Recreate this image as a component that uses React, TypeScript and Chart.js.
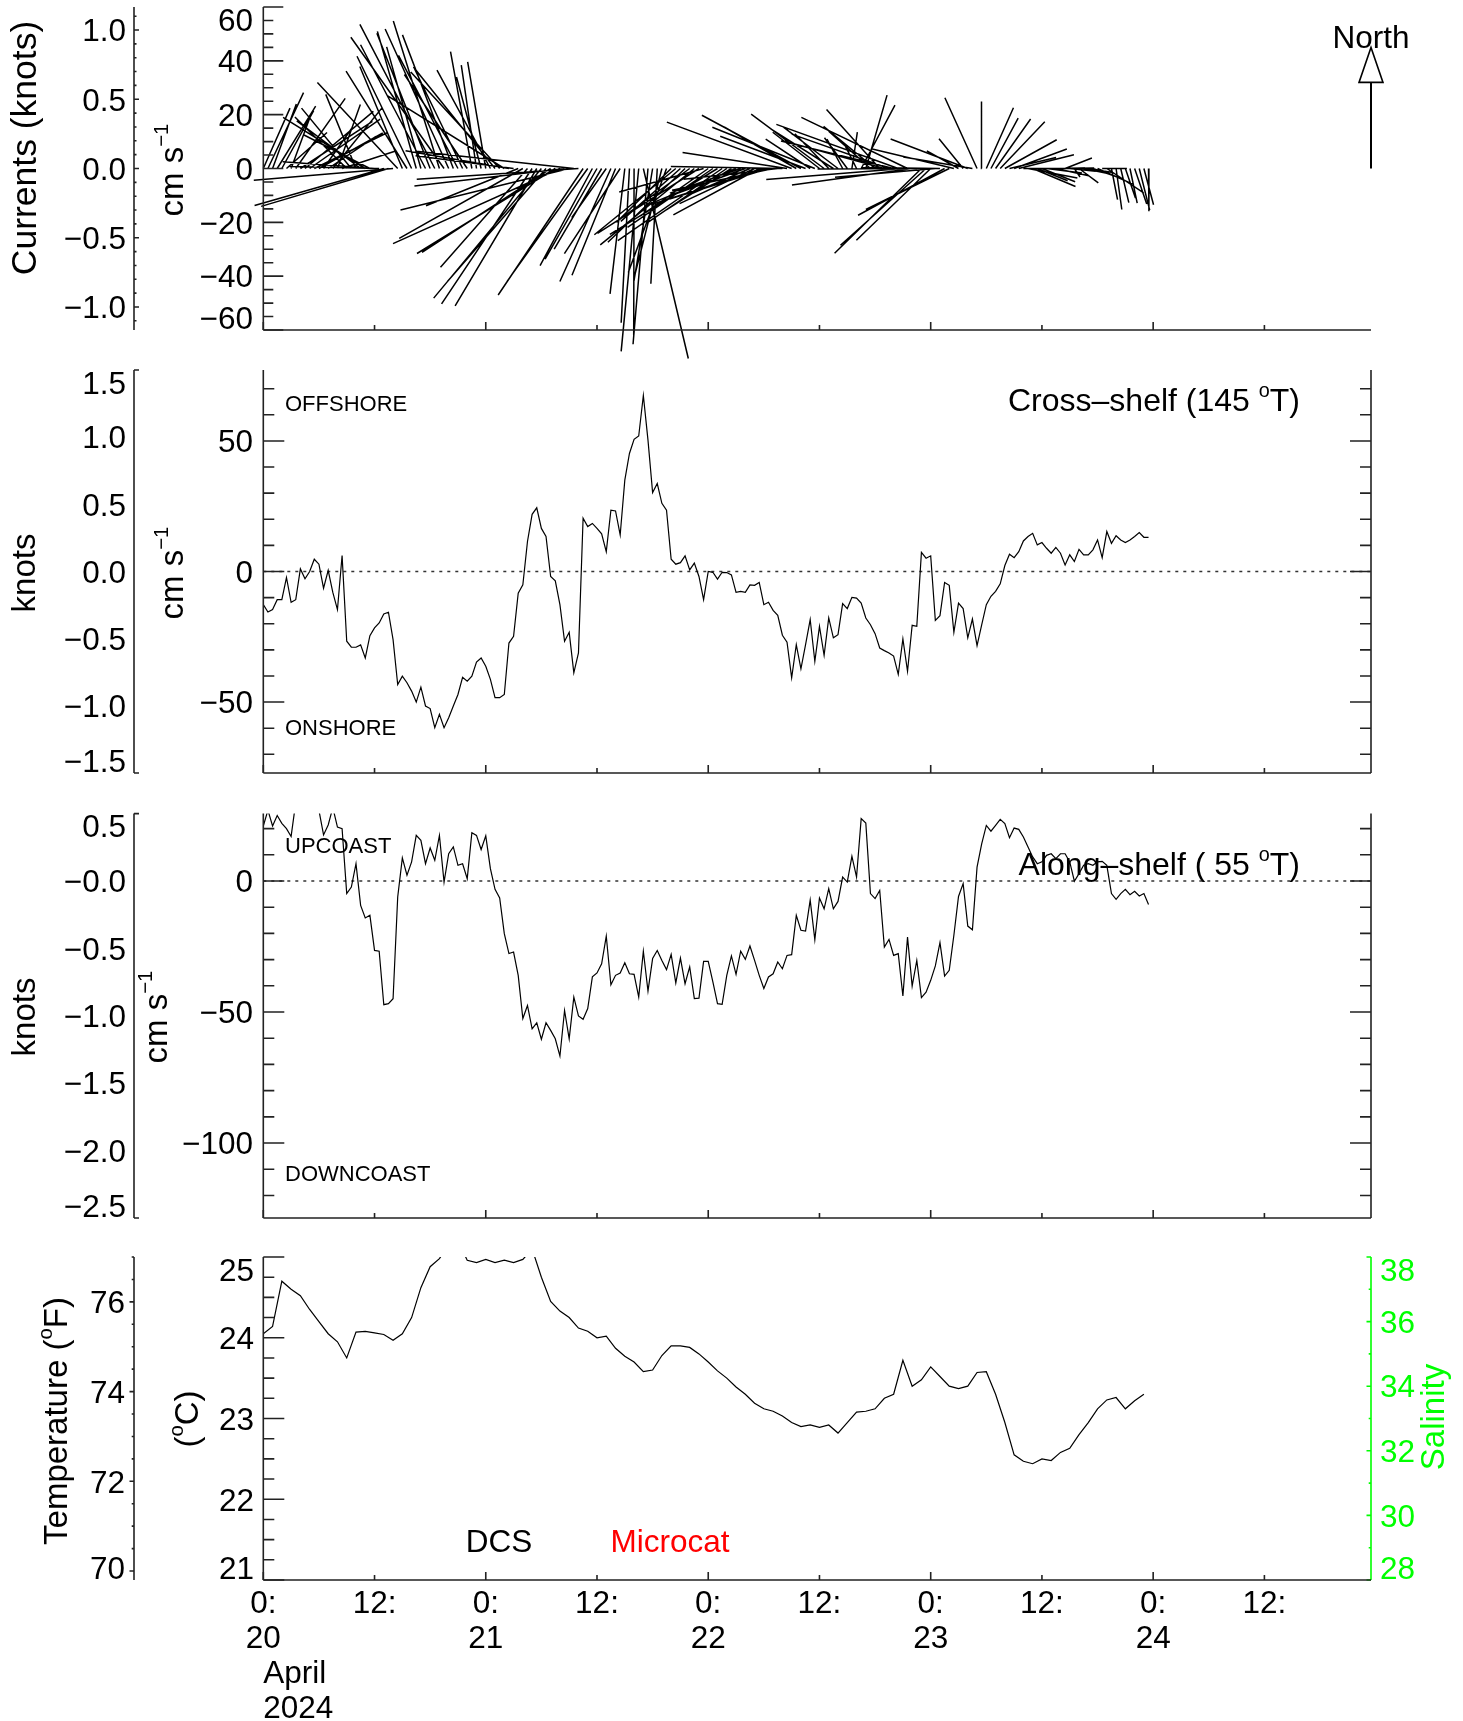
import React, { useEffect, useRef } from "react";
import { Chart, registerables } from "chart.js";

Chart.register(...registerables);

const PAGE_W = 1463;
const PAGE_H = 1721;

// ---------- data ----------
// time in hours since 0:00, 20 April 2024
const TIME_MIN_H = 0;
const TIME_MAX_H = 119.5;
const TIME_TICKS_H = [0, 12, 24, 36, 48, 60, 72, 84, 96, 108];
const TIME_TICK_LABELS = ["0:", "12:", "0:", "12:", "0:", "12:", "0:", "12:", "0:", "12:"];
const DAY_LABELS = ["20", "", "21", "", "22", "", "23", "", "24", ""];
const MONTH_LABEL = "April";
const YEAR_LABEL = "2024";

const CURRENT_STEP_H = 0.5;
const CROSS_SHELF_DIR_DEG = 145;
const ALONG_SHELF_DIR_DEG = 55;
const CMS_PER_KNOT = 51.444;
const NORTH_REF_CMS = 45;

const CROSS_SHELF_CMS = [
  -12.7, -15.5, -14.6, -10.8, -10.8, -2.3, -11.8, -10.8, 1.0, -2.8,
  0.0, 4.7, 2.8, -6.4, 0.4, -8.0, -14.6, 6.1, -26.7, -29.0,
  -29.0, -28.1, -33.1, -24.6, -21.6, -19.7, -16.3, -15.6, -26.1, -43.3,
  -40.1, -42.6, -45.8, -50.0, -44.3, -51.5, -52.5, -59.8, -54.7, -59.8,
  -56.0, -51.5, -47.1, -40.5, -42.0, -40.1, -34.7, -33.1, -36.3, -41.3,
  -48.3, -48.3, -47.1, -27.4, -24.8, -8.3, -5.1, 11.5, 21.9, 24.4,
  16.5, 13.4, -1.9, -3.6, -12.7, -26.7, -23.3, -38.8, -31.2, 20.4,
  17.2, 18.4, 16.5, 14.4, 7.6, 23.5, 23.2, 14.0, 35.0, 45.2,
  50.6, 51.9, 67.4, 50.3, 30.2, 33.7, 26.1, 23.5, 4.7, 2.8,
  3.4, 6.0, 0.6, 3.2, -1.9, -10.8, 0.0, -0.3, -2.9, -0.3,
  -0.4, -1.3, -8.0, -7.6, -8.0, -5.1, -5.3, -4.2, -12.7, -11.8,
  -14.9, -16.8, -24.4, -27.1, -40.7, -28.0, -37.3, -28.0, -18.4, -34.4,
  -21.0, -32.1, -17.8, -25.4, -24.2, -12.3, -14.2, -9.9, -10.2, -12.1,
  -17.8, -20.4, -23.8, -29.3, -30.3, -31.2, -32.4, -39.4, -25.8, -38.2,
  -20.6, -21.0, 7.3, 5.1, 6.0, -18.7, -16.9, -4.2, -5.3, -23.3,
  -12.1, -14.2, -25.4, -18.2, -28.4, -20.4, -12.7, -9.5, -7.6, -4.7,
  2.3, 6.6, 5.3, 7.6, 11.7, 13.4, 14.6, 10.2, 11.1, 8.9,
  7.0, 9.2, 7.0, 2.5, 6.4, 3.8, 8.5, 6.4, 6.4, 8.3,
  12.1, 5.3, 15.3, 10.8, 13.7, 12.1, 11.1, 12.1, 13.4, 14.9,
  13.1, 13.1,
];

const ALONG_SHELF_CMS = [
  21, 27, 21, 25, 22, 20, 17, 30, 32, 33,
  32, 30, 27, 17.6, 21.4, 28, 20.6, 20.0, -4.8, -2.3,
  6.6, -9.3, -14.1, -13.1, -26.5, -26.8, -47.2, -46.8, -44.9, -6.1,
  8.8, 2.2, 7.3, 17.4, 15.5, 6.6, 12.6, 7.9, 17.4, -0.4,
  10.4, 13.0, 6.0, 6.6, 0.9, 18.4, 17.4, 12.0, 17.2, 4.7,
  -3.2, -6.5, -20.1, -27.7, -27.1, -36.0, -52.5, -47.5, -56.4, -54.1,
  -60.4, -54.1, -57.0, -60.2, -66.8, -49.4, -60.2, -44.3, -51.5, -52.8,
  -48.7, -36.6, -35.1, -31.6, -21.0, -39.6, -36.0, -35.1, -31.2, -35.4,
  -35.6, -44.3, -26.8, -42.0, -29.6, -26.5, -30.3, -33.8, -28.0, -38.9,
  -29.4, -39.2, -32.8, -44.9, -44.7, -30.7, -30.7, -38.5, -46.8, -47.1,
  -36.0, -28.6, -35.6, -26.8, -29.9, -24.8, -30.3, -36.0, -41.0, -36.6,
  -35.4, -30.9, -33.5, -28.4, -28.1, -13.1, -18.8, -19.1, -7.3, -22.4,
  -6.5, -10.6, -2.9, -10.6, -7.8, 1.5, -0.4, 9.4, 1.5, 23.8,
  22.1, -4.8, -6.7, -3.6, -25.2, -22.3, -28.4, -27.7, -43.9, -21.4,
  -40.1, -30.3, -44.5, -42.4, -37.9, -32.4, -23.5, -36.3, -34.1, -20.7,
  -5.9, -1.0, -17.2, -18.6, 5.3, 14.2, 21.2, 19.0, 21.2, 23.5,
  21.9, 16.5, 20.2, 19.7, 16.8, 13.0, 9.2, 6.6, 7.3, 9.8,
  10.4, 8.5, 10.4, 10.4, 7.3, -0.1, 2.8, 6.0, 6.6, 6.0,
  7.3, 7.5, 6.0, -4.8, -7.0, -4.8, -3.2, -5.2, -3.9, -5.7,
  -4.8, -9.0,
];

const TEMP_STEP_H = 1;
const TEMP_C = [
  24.05, 24.14, 24.70, 24.60, 24.52, 24.35, 24.20, 24.05, 23.95, 23.75,
  24.07, 24.08, 24.06, 24.04, 23.97, 24.05, 24.25, 24.62, 24.88, 24.98,
  25.15, 25.2, 24.96, 24.93, 24.97, 24.93, 24.96, 24.93, 24.97, 25.1,
  24.75, 24.45, 24.33, 24.25, 24.12, 24.08, 24.0, 24.02, 23.87, 23.77,
  23.70, 23.58, 23.60, 23.78, 23.90, 23.90, 23.88, 23.80, 23.70, 23.59,
  23.50, 23.39, 23.30, 23.19, 23.12, 23.09, 23.03, 22.95, 22.90, 22.92,
  22.89, 22.92, 22.82, 22.95, 23.08, 23.09, 23.12, 23.25, 23.30, 23.72,
  23.40, 23.48, 23.64, 23.52, 23.40, 23.37, 23.40, 23.57, 23.58, 23.30,
  22.95, 22.55, 22.47, 22.44, 22.50, 22.48, 22.58, 22.63, 22.80, 22.95,
  23.12, 23.23, 23.26, 23.12, 23.22, 23.30,
];

// axis ranges
const P1_CMS_RANGE = [-60, 60];
const P2_KNOT_RANGE = [-1.5, 1.5];
const P3_KNOT_RANGE = [-2.5, 0.5];
const TEMP_C_RANGE = [21, 25];
const SAL_RANGE = [28, 38];

// tick labels
const P1_CMS_TICKS = [60, 40, 20, 0, -20, -40, -60];
const P1_CMS_LABELS = ["60", "40", "20", "0", "\u221220", "\u221240", "\u221260"];
const P1_KNOT_TICKS = [1.0, 0.5, 0, -0.5, -1.0];
const P1_KNOT_LABELS = ["1.0", "0.5", "0.0", "\u22120.5", "\u22121.0"];
const P2_CMS_TICKS = [50, 0, -50];
const P2_CMS_LABELS = ["50", "0", "\u221250"];
const P2_KNOT_TICKS = [1.5, 1.0, 0.5, 0, -0.5, -1.0, -1.5];
const P2_KNOT_LABELS = ["1.5", "1.0", "0.5", "0.0", "\u22120.5", "\u22121.0", "\u22121.5"];
const P3_CMS_TICKS = [0, -50, -100];
const P3_CMS_LABELS = ["0", "\u221250", "\u2212100"];
const P3_KNOT_TICKS = [0.5, 0, -0.5, -1.0, -1.5, -2.0, -2.5];
const P3_KNOT_LABELS = ["0.5", "\u22120.0", "\u22120.5", "\u22121.0", "\u22121.5", "\u22122.0", "\u22122.5"];
const TEMP_C_TICKS = [25, 24, 23, 22, 21];
const TEMP_C_LABELS = ["25", "24", "23", "22", "21"];
const TEMP_F_TICKS = [76, 74, 72, 70];
const TEMP_F_LABELS = ["76", "74", "72", "70"];
const SAL_TICKS = [38, 36, 34, 32, 30, 28];
const SAL_LABELS = ["38", "36", "34", "32", "30", "28"];

// ---------- layout ----------
const PLOT_LEFT = 263.3;
const PLOT_RIGHT = 1371;
const KNOT_AXIS_X = 134;
const INK = "#222";
const GREEN = "#00ff00";
const FONT = '"Liberation Sans", Arial, Helvetica, sans-serif';
const TICK_FS = 31.5;
const TITLE_FS = 33;
const PANEL_TITLE_FS = 32;
const NOTE_FS = 22;

type Part = { t: string; sup?: boolean };

function drawRich(
  ctx: CanvasRenderingContext2D,
  parts: Part[] | string,
  x: number,
  y: number,
  size: number,
  align: "left" | "center" | "right" = "left",
  color = "#000",
  rotated = false
) {
  const ps: Part[] = typeof parts === "string" ? [{ t: parts }] : parts;
  const supSize = size * 0.62;
  ctx.save();
  ctx.translate(x, y);
  if (rotated) ctx.rotate(-Math.PI / 2);
  ctx.fillStyle = color;
  ctx.textBaseline = "alphabetic";
  ctx.textAlign = "left";
  const widths = ps.map((p) => {
    ctx.font = `${p.sup ? supSize : size}px ${FONT}`;
    return ctx.measureText(p.t).width;
  });
  const total = widths.reduce((a, b) => a + b, 0);
  let cx = align === "left" ? 0 : align === "center" ? -total / 2 : -total;
  const base = size * 0.358;
  ps.forEach((p, i) => {
    ctx.font = `${p.sup ? supSize : size}px ${FONT}`;
    ctx.fillText(p.t, cx, p.sup ? base - size * 0.45 : base);
    cx += widths[i];
  });
  ctx.restore();
}

function steps(a: number, b: number, s: number): number[] {
  const out: number[] = [];
  const n = Math.round((b - a) / s);
  for (let i = 0; i <= n; i++) out.push(+(a + i * s).toFixed(6));
  return out;
}

type TickSet = { values: number[]; len: number };
type AxisSpec = {
  scale: string;
  at: "left" | "right" | number;
  dir: 1 | -1;
  color: string;
  ticks: TickSet[];
  labels?: { values: number[]; texts: string[]; x: number; align: "left" | "right"; color?: string };
};
type TextSpec = { parts: Part[] | string; x: number; y: number; size: number; align: "left" | "center" | "right"; color?: string; rotated?: boolean };
type PanelSpec = {
  top: number;
  bottom: number;
  axes: AxisSpec[];
  texts: TextSpec[];
  zeroLine: boolean;
  timeLabels: boolean;
  north?: boolean;
};

function drawVAxis(chart: any, ax: AxisSpec) {
  const ctx: CanvasRenderingContext2D = chart.ctx;
  const sc = chart.scales[ax.scale];
  const a = chart.chartArea;
  const x = ax.at === "left" ? a.left : ax.at === "right" ? a.right : ax.at;
  const yTop = sc.getPixelForValue(sc.max);
  const yBot = sc.getPixelForValue(sc.min);
  ctx.save();
  ctx.strokeStyle = ax.color;
  ctx.lineWidth = 1.6;
  ctx.beginPath();
  ctx.moveTo(x, yTop);
  ctx.lineTo(x, yBot);
  for (const ts of ax.ticks) {
    for (const v of ts.values) {
      if (v < sc.min - 1e-6 || v > sc.max + 1e-6) continue;
      const y = sc.getPixelForValue(v);
      ctx.moveTo(x, y);
      ctx.lineTo(x + ax.dir * ts.len, y);
    }
  }
  ctx.stroke();
  ctx.restore();
  if (ax.labels) {
    const half = TICK_FS * 0.36 + 1;
    ax.labels.values.forEach((v, i) => {
      let y = sc.getPixelForValue(v);
      y = Math.max(yTop + half, Math.min(yBot - half, y));
      drawRich(ctx, ax.labels!.texts[i], ax.labels!.x, y, TICK_FS, ax.labels!.align, ax.labels!.color || "#000");
    });
  }
}

function drawTimeAxis(chart: any, withLabels: boolean) {
  const ctx: CanvasRenderingContext2D = chart.ctx;
  const xs = chart.scales.x;
  const a = chart.chartArea;
  ctx.save();
  ctx.strokeStyle = INK;
  ctx.lineWidth = 1.6;
  ctx.beginPath();
  ctx.moveTo(a.left, a.bottom);
  ctx.lineTo(a.right, a.bottom);
  TIME_TICKS_H.forEach((h) => {
    const px = xs.getPixelForValue(h);
    const len = h % 24 === 0 ? 8 : 5;
    ctx.moveTo(px, a.bottom);
    ctx.lineTo(px, a.bottom - len);
  });
  ctx.stroke();
  ctx.restore();
  if (withLabels) {
    TIME_TICKS_H.forEach((h, i) => {
      const px = xs.getPixelForValue(h);
      drawRich(ctx, TIME_TICK_LABELS[i], px, a.bottom + 22, TICK_FS, "center");
      if (DAY_LABELS[i]) drawRich(ctx, DAY_LABELS[i], px, a.bottom + 57, TICK_FS, "center");
    });
    drawRich(ctx, MONTH_LABEL, a.left, a.bottom + 92, TICK_FS, "left");
    drawRich(ctx, YEAR_LABEL, a.left, a.bottom + 127, TICK_FS, "left");
  }
}

function makePlugin(spec: PanelSpec) {
  return {
    id: "idlAxes",
    beforeDatasetsDraw(chart: any) {
      if (!spec.zeroLine) return;
      const ctx: CanvasRenderingContext2D = chart.ctx;
      const a = chart.chartArea;
      const y0 = chart.scales.y.getPixelForValue(0);
      ctx.save();
      ctx.strokeStyle = "#333";
      ctx.lineWidth = 1.3;
      ctx.setLineDash([3, 5]);
      ctx.beginPath();
      ctx.moveTo(a.left, y0);
      ctx.lineTo(a.right, y0);
      ctx.stroke();
      ctx.restore();
    },
    afterDraw(chart: any) {
      const ctx: CanvasRenderingContext2D = chart.ctx;
      spec.axes.forEach((ax) => drawVAxis(chart, ax));
      drawTimeAxis(chart, spec.timeLabels);
      spec.texts.forEach((t) =>
        drawRich(ctx, t.parts, t.x, t.y, t.size, t.align, t.color || "#000", !!t.rotated)
      );
      if (spec.north) {
        const xs = chart.scales.x;
        const ys = chart.scales.y;
        const px = xs.getPixelForValue(xs.max);
        const y0 = ys.getPixelForValue(0);
        const yTip = ys.getPixelForValue(NORTH_REF_CMS);
        const headLen = 35;
        const headHalf = 12;
        ctx.save();
        ctx.strokeStyle = "#000";
        ctx.lineWidth = 2;
        ctx.beginPath();
        ctx.moveTo(px, y0);
        ctx.lineTo(px, yTip + headLen);
        ctx.stroke();
        ctx.beginPath();
        ctx.moveTo(px - headHalf, yTip + headLen);
        ctx.lineTo(px + headHalf, yTip + headLen);
        ctx.lineTo(px, yTip);
        ctx.closePath();
        ctx.fillStyle = "#fff";
        ctx.fill();
        ctx.lineWidth = 1.6;
        ctx.stroke();
        ctx.restore();
        drawRich(ctx, "North", px, yTip - 11, TICK_FS, "center");
      }
    },
  };
}

function baseOptions(spec: PanelSpec, scales: any) {
  return {
    responsive: false,
    maintainAspectRatio: false,
    animation: false as const,
    events: [] as any[],
    layout: {
      padding: { left: PLOT_LEFT, right: PAGE_W - PLOT_RIGHT, top: spec.top, bottom: PAGE_H - spec.bottom },
    },
    plugins: { legend: { display: false }, tooltip: { enabled: false } },
    scales: {
      x: { type: "linear", min: TIME_MIN_H, max: TIME_MAX_H, display: false },
      ...scales,
    },
  };
}

const rad = (d: number) => (d * Math.PI) / 180;
const knotsRange = (r: number[]) => r.map((v) => v / CMS_PER_KNOT);
const cmsRange = (r: number[]) => r.map((v) => v * CMS_PER_KNOT);
const cToF = (c: number) => c * 1.8 + 32;

const cmsSup: Part[] = [{ t: "cm s" }, { t: "\u22121", sup: true }];

// ---------- panel 1: current sticks ----------
function buildP1() {
  const spec: PanelSpec = {
    top: 7,
    bottom: 330,
    zeroLine: false,
    timeLabels: false,
    north: true,
    axes: [
      {
        scale: "y", at: "left", dir: 1, color: INK,
        ticks: [
          { values: steps(-60, 60, 20), len: 20 },
          { values: steps(-60, 60, 5), len: 10 },
        ],
        labels: { values: P1_CMS_TICKS, texts: P1_CMS_LABELS, x: 253, align: "right" },
      },
      {
        scale: "y2", at: KNOT_AXIS_X, dir: 1, color: INK,
        ticks: [
          { values: P1_KNOT_TICKS, len: 5 },
          { values: steps(-1.1, 1.1, 0.1), len: 2.5 },
        ],
        labels: { values: P1_KNOT_TICKS, texts: P1_KNOT_LABELS, x: 126, align: "right" },
      },
    ],
    texts: [
      { parts: "Currents (knots)", x: 23, y: 148, size: 35.5, align: "center", rotated: true },
      { parts: cmsSup, x: 171, y: 170, size: TITLE_FS, align: "center", rotated: true },
    ],
  };
  // horizontal span of one cm/s in hours so that sticks keep true direction
  const pxPerCms = (spec.bottom - spec.top) / (P1_CMS_RANGE[1] - P1_CMS_RANGE[0]);
  const pxPerHour = (PLOT_RIGHT - PLOT_LEFT) / (TIME_MAX_H - TIME_MIN_H);
  const hoursPerCms = pxPerCms / pxPerHour;
  const sinC = Math.sin(rad(CROSS_SHELF_DIR_DEG)), cosC = Math.cos(rad(CROSS_SHELF_DIR_DEG));
  const sinA = Math.sin(rad(ALONG_SHELF_DIR_DEG)), cosA = Math.cos(rad(ALONG_SHELF_DIR_DEG));
  const pts: any[] = [];
  CROSS_SHELF_CMS.forEach((c, i) => {
    const a = ALONG_SHELF_CMS[i];
    const east = c * sinC + a * sinA;
    const north = c * cosC + a * cosA;
    const t = TIME_MIN_H + i * CURRENT_STEP_H;
    pts.push({ x: t, y: 0 }, { x: t + east * hoursPerCms, y: north }, { x: t, y: null });
  });
  return {
    type: "line",
    data: {
      datasets: [
        { data: pts, borderColor: "#000", borderWidth: 1.5, pointRadius: 0, spanGaps: false, clip: false, tension: 0 },
      ],
    },
    options: baseOptions(spec, {
      y: { type: "linear", min: P1_CMS_RANGE[0], max: P1_CMS_RANGE[1], display: false },
      y2: { type: "linear", axis: "y", min: knotsRange(P1_CMS_RANGE)[0], max: knotsRange(P1_CMS_RANGE)[1], display: false },
    }),
    plugins: [makePlugin(spec)],
  };
}

// ---------- panel 2: cross-shelf ----------
function buildP2() {
  const spec: PanelSpec = {
    top: 370,
    bottom: 773,
    zeroLine: true,
    timeLabels: false,
    axes: [
      {
        scale: "y", at: "left", dir: 1, color: INK,
        ticks: [
          { values: P2_CMS_TICKS, len: 21 },
          { values: steps(-70, 70, 10), len: 11 },
        ],
        labels: { values: P2_CMS_TICKS, texts: P2_CMS_LABELS, x: 253, align: "right" },
      },
      {
        scale: "y", at: "right", dir: -1, color: INK,
        ticks: [
          { values: P2_CMS_TICKS, len: 21 },
          { values: steps(-70, 70, 10), len: 11 },
        ],
      },
      {
        scale: "y2", at: KNOT_AXIS_X, dir: 1, color: INK,
        ticks: [{ values: [P2_KNOT_RANGE[0], P2_KNOT_RANGE[1]], len: 5 }],
        labels: { values: P2_KNOT_TICKS, texts: P2_KNOT_LABELS, x: 126, align: "right" },
      },
    ],
    texts: [
      { parts: "knots", x: 23, y: 573, size: TITLE_FS, align: "center", rotated: true },
      { parts: cmsSup, x: 171, y: 573, size: TITLE_FS, align: "center", rotated: true },
      { parts: "OFFSHORE", x: 285, y: 403, size: NOTE_FS, align: "left" },
      { parts: "ONSHORE", x: 285, y: 727, size: NOTE_FS, align: "left" },
      {
        parts: [{ t: "Cross\u2013shelf (145 " }, { t: "o", sup: true }, { t: "T)" }],
        x: 1300, y: 400, size: PANEL_TITLE_FS, align: "right",
      },
    ],
  };
  return {
    type: "line",
    data: {
      datasets: [
        {
          data: CROSS_SHELF_CMS.map((v, i) => ({ x: TIME_MIN_H + i * CURRENT_STEP_H, y: v })),
          borderColor: "#000", borderWidth: 1.2, pointRadius: 0, tension: 0,
        },
      ],
    },
    options: baseOptions(spec, {
      y: { type: "linear", min: cmsRange(P2_KNOT_RANGE)[0], max: cmsRange(P2_KNOT_RANGE)[1], display: false },
      y2: { type: "linear", axis: "y", min: P2_KNOT_RANGE[0], max: P2_KNOT_RANGE[1], display: false },
    }),
    plugins: [makePlugin(spec)],
  };
}

// ---------- panel 3: along-shelf ----------
function buildP3() {
  const spec: PanelSpec = {
    top: 813.6,
    bottom: 1218,
    zeroLine: true,
    timeLabels: false,
    axes: [
      {
        scale: "y", at: "left", dir: 1, color: INK,
        ticks: [
          { values: P3_CMS_TICKS, len: 21 },
          { values: steps(-120, 20, 10), len: 11 },
        ],
        labels: { values: P3_CMS_TICKS, texts: P3_CMS_LABELS, x: 253, align: "right" },
      },
      {
        scale: "y", at: "right", dir: -1, color: INK,
        ticks: [
          { values: P3_CMS_TICKS, len: 21 },
          { values: steps(-120, 20, 10), len: 11 },
        ],
      },
      {
        scale: "y2", at: KNOT_AXIS_X, dir: 1, color: INK,
        ticks: [{ values: [P3_KNOT_RANGE[0], P3_KNOT_RANGE[1]], len: 5 }],
        labels: { values: P3_KNOT_TICKS, texts: P3_KNOT_LABELS, x: 126, align: "right" },
      },
    ],
    texts: [
      { parts: "knots", x: 23, y: 1017, size: TITLE_FS, align: "center", rotated: true },
      { parts: cmsSup, x: 155, y: 1017, size: TITLE_FS, align: "center", rotated: true },
      { parts: "UPCOAST", x: 285, y: 845, size: NOTE_FS, align: "left" },
      { parts: "DOWNCOAST", x: 285, y: 1173, size: NOTE_FS, align: "left" },
      {
        parts: [{ t: "Along\u2013shelf ( 55 " }, { t: "o", sup: true }, { t: "T)" }],
        x: 1300, y: 864, size: PANEL_TITLE_FS, align: "right",
      },
    ],
  };
  return {
    type: "line",
    data: {
      datasets: [
        {
          data: ALONG_SHELF_CMS.map((v, i) => ({ x: TIME_MIN_H + i * CURRENT_STEP_H, y: v })),
          borderColor: "#000", borderWidth: 1.2, pointRadius: 0, tension: 0,
        },
      ],
    },
    options: baseOptions(spec, {
      y: { type: "linear", min: cmsRange(P3_KNOT_RANGE)[0], max: cmsRange(P3_KNOT_RANGE)[1], display: false },
      y2: { type: "linear", axis: "y", min: P3_KNOT_RANGE[0], max: P3_KNOT_RANGE[1], display: false },
    }),
    plugins: [makePlugin(spec)],
  };
}

// ---------- panel 4: temperature / salinity ----------
function buildP4() {
  const spec: PanelSpec = {
    top: 1257,
    bottom: 1580,
    zeroLine: false,
    timeLabels: true,
    axes: [
      {
        scale: "y", at: "left", dir: 1, color: INK,
        ticks: [
          { values: TEMP_C_TICKS, len: 21 },
          { values: steps(21, 25, 0.25), len: 11 },
        ],
        labels: { values: TEMP_C_TICKS, texts: TEMP_C_LABELS, x: 254, align: "right" },
      },
      {
        scale: "y2", at: KNOT_AXIS_X, dir: -1, color: INK,
        ticks: [
          { values: TEMP_F_TICKS, len: 4.5 },
          { values: steps(70, 77, 0.5), len: 2.3 },
        ],
        labels: { values: TEMP_F_TICKS, texts: TEMP_F_LABELS, x: 125, align: "right" },
      },
      {
        scale: "y3", at: "right", dir: -1, color: GREEN,
        ticks: [
          { values: SAL_TICKS, len: 4.5 },
          { values: steps(28, 38, 1), len: 2.3 },
        ],
        labels: { values: SAL_TICKS, texts: SAL_LABELS, x: 1380, align: "left", color: GREEN },
      },
    ],
    texts: [
      {
        parts: [{ t: "Temperature (" }, { t: "o", sup: true }, { t: "F)" }],
        x: 55, y: 1421, size: TITLE_FS, align: "center", rotated: true,
      },
      {
        parts: [{ t: "(" }, { t: "o", sup: true }, { t: "C)" }],
        x: 186, y: 1419, size: TITLE_FS, align: "center", rotated: true,
      },
      { parts: "Salinity", x: 1432, y: 1417, size: TITLE_FS, align: "center", color: GREEN, rotated: true },
      { parts: "DCS", x: 499, y: 1541, size: TICK_FS, align: "center" },
      { parts: "Microcat", x: 670, y: 1541, size: TICK_FS, align: "center", color: "#ff0000" },
    ],
  };
  return {
    type: "line",
    data: {
      datasets: [
        {
          data: TEMP_C.map((v, i) => ({ x: TIME_MIN_H + i * TEMP_STEP_H, y: v })),
          borderColor: "#000", borderWidth: 1.2, pointRadius: 0, tension: 0,
        },
      ],
    },
    options: baseOptions(spec, {
      y: { type: "linear", min: TEMP_C_RANGE[0], max: TEMP_C_RANGE[1], display: false },
      y2: { type: "linear", axis: "y", min: cToF(TEMP_C_RANGE[0]), max: cToF(TEMP_C_RANGE[1]), display: false },
      y3: { type: "linear", axis: "y", min: SAL_RANGE[0], max: SAL_RANGE[1], display: false },
    }),
    plugins: [makePlugin(spec)],
  };
}

function PanelCanvas({ build }: { build: () => any }) {
  const ref = useRef<HTMLCanvasElement>(null);
  useEffect(() => {
    const chart = new Chart(ref.current as HTMLCanvasElement, build());
    return () => chart.destroy();
  }, [build]);
  return (
    <canvas
      ref={ref}
      width={PAGE_W}
      height={PAGE_H}
      style={{ position: "absolute", left: 0, top: 0, width: PAGE_W, height: PAGE_H, pointerEvents: "none" }}
    />
  );
}

const BUILDERS = [buildP1, buildP2, buildP3, buildP4];

export default function App() {
  return (
    <div style={{ position: "absolute", left: 0, top: 0, width: PAGE_W, height: PAGE_H, background: "#fff", overflow: "hidden" }}>
      {BUILDERS.map((b, i) => (
        <PanelCanvas key={i} build={b} />
      ))}
    </div>
  );
}
